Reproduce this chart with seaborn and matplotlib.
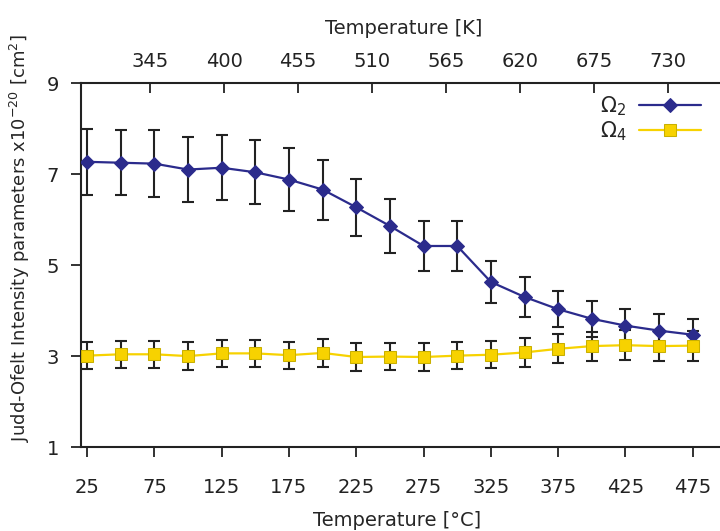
import numpy as np
import pandas as pd
import matplotlib
matplotlib.use("Agg")
import matplotlib.pyplot as plt
import seaborn as sns

# Temperatures in °C
temp_c = [25, 50, 75, 100, 125, 150, 175, 200, 225, 250,
          275, 300, 325, 350, 375, 400, 425, 450, 475]

# Judd-Ofelt parameters (x10^-20 cm^2) and their errors
omega2 = [7.27, 7.25, 7.23, 7.10, 7.14, 7.04, 6.88, 6.66, 6.27, 5.86,
          5.42, 5.42, 4.63, 4.30, 4.03, 3.82, 3.67, 3.56, 3.47]
omega2_err = [0.72, 0.72, 0.73, 0.71, 0.72, 0.70, 0.69, 0.66, 0.63, 0.60,
              0.54, 0.54, 0.47, 0.43, 0.40, 0.39, 0.37, 0.36, 0.34]
omega4 = [3.01, 3.04, 3.04, 3.00, 3.06, 3.06, 3.02, 3.07, 2.98, 2.99,
          2.98, 3.01, 3.03, 3.08, 3.16, 3.22, 3.24, 3.22, 3.23]
omega4_err = [0.30, 0.30, 0.30, 0.30, 0.30, 0.30, 0.30, 0.30, 0.30, 0.30,
              0.30, 0.30, 0.30, 0.31, 0.32, 0.32, 0.33, 0.33, 0.33]

kelvin_ticks = [345, 400, 455, 510, 565, 620, 675, 730]
celsius_ticks = [25, 75, 125, 175, 225, 275, 325, 375, 425, 475]
y_ticks = [1, 3, 5, 7, 9]

blue = "#2b2b8c"
yellow = "#f7d200"

sns.set_style("ticks")
plt.rcParams['font.family'] = ['DejaVu Sans']
plt.rcParams['font.size'] = 14

df = pd.DataFrame({"T": temp_c, "o2": omega2, "o4": omega4})

fig = plt.figure(figsize=(7.2, 5.31), dpi=100)
ax = fig.add_axes([0.1125, 0.158, 0.8964, 0.6855])

# error bars first, then lines with markers on top
ax.errorbar(temp_c, omega2, yerr=omega2_err, fmt="none", ecolor="#222222",
            elinewidth=1.5, capsize=4, capthick=1.5, zorder=2)
ax.errorbar(temp_c, omega4, yerr=omega4_err, fmt="none", ecolor="#222222",
            elinewidth=1.5, capsize=4, capthick=1.5, zorder=2)

sns.lineplot(data=df, x="T", y="o2", ax=ax, color=blue, linewidth=1.6,
             marker="D", markersize=7, markeredgecolor=blue,
             label="Ω$_2$", zorder=3)
sns.lineplot(data=df, x="T", y="o4", ax=ax, color=yellow, linewidth=1.6,
             marker="s", markersize=9, markeredgecolor="#c9b000",
             label="Ω$_4$", zorder=3)

ax.set_xlim(20.5, 500)
ax.set_ylim(1, 9)
ax.set_xticks(celsius_ticks)
ax.set_yticks(y_ticks)

for side in ["top", "right"]:
    ax.spines[side].set_visible(False)
for side in ["left", "bottom"]:
    ax.spines[side].set_linewidth(1.5)
    ax.spines[side].set_color("#222222")

ax.tick_params(axis="both", direction="out", length=7, width=1.3,
               colors="#222222", labelsize=14)
ax.tick_params(axis="y", pad=9)
ax.tick_params(axis="x", pad=15)

ax.set_xlabel("Temperature [°C]", fontsize=14)
ax.set_ylabel("Judd-Ofelt Intensity parameters x10$^{-20}$ [cm$^2$]",
              fontsize=13)
ax.xaxis.set_label_coords(0.49, -0.175)
ax.yaxis.set_label_coords(-0.076, 0.575)

top = ax.secondary_xaxis("top", functions=(lambda c: c + 273.15,
                                           lambda k: k - 273.15))
top.set_xticks(kelvin_ticks)
top.tick_params(direction="in", length=7, width=1.3, colors="#222222",
                labelsize=14, pad=9)
top.spines["top"].set_linewidth(1.5)
top.spines["top"].set_color("#222222")
top.set_xlabel("Temperature [K]", fontsize=14, labelpad=13)

leg = ax.legend(loc="upper right", bbox_to_anchor=(0.99, 1.02),
                frameon=False, markerfirst=False, handlelength=3.0,
                fontsize=15, labelspacing=0.05, handletextpad=0.6)

fig.savefig("out.png", dpi=100)
